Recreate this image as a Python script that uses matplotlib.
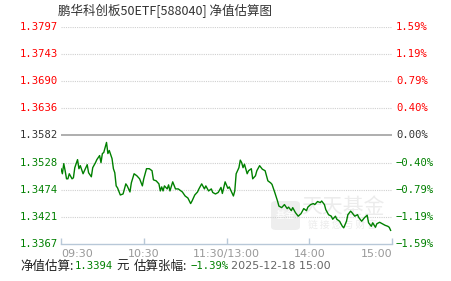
import matplotlib
matplotlib.use("Agg")
import matplotlib.pyplot as plt
from matplotlib.patches import FancyBboxPatch

plt.rcParams['font.family'] = ['Noto Sans CJK SC', 'DejaVu Sans']

###########################################################
### ---------------------- DATA ---------------------------
###########################################################

title = "鹏华科创板50ETF[588040] 净值估算图"
base_nav = 1.3582
nav_levels = [1.3797, 1.3743, 1.3690, 1.3636, 1.3582, 1.3528, 1.3474, 1.3421, 1.3367]
pct_labels = ["1.59%", "1.19%", "0.79%", "0.40%", "0.00%", "-0.40%", "-0.79%", "-1.19%", "-1.59%"]
time_ticks = [0, 60, 120, 180, 240]
time_labels = ["09:30", "10:30", "11:30/13:00", "14:00", "15:00"]

# trading minutes since 09:30 (lunch break removed)
minutes = [0, 1, 2, 3, 4, 5, 6, 8, 9, 10, 12, 13, 14, 16, 17, 19, 20, 22, 23, 25,
           26, 28, 29, 30, 31, 33, 34, 35, 37, 38, 39, 40, 41, 43, 45, 46, 47, 48, 50, 51,
           53, 55, 57, 59, 60, 62, 64, 66, 67, 69, 71, 72, 73, 74, 75, 77, 78, 79, 81, 83,
           85, 88, 90, 92, 94, 95, 97, 99, 100, 102, 104, 105, 107, 109, 110, 112, 114, 116, 117, 119,
           121, 122, 125, 126, 127, 129, 130, 131, 132, 133, 135, 136, 138, 139, 141, 142, 144, 146, 148, 150,
           152, 153, 155, 157, 158, 160, 162, 164, 165, 167, 168, 170, 172, 174, 176, 178, 179, 181, 183, 184,
           186, 188, 189, 191, 192, 194, 196, 197, 199, 200, 202, 204, 205, 207, 208, 210, 211, 213, 215, 216,
           218, 220, 222, 223, 225, 226, 228, 229, 231, 233, 235, 237, 238, 239]
nav = [1.3516, 1.3506, 1.3526, 1.3512, 1.3496, 1.3496, 1.3506, 1.3496, 1.3498, 1.3518,
       1.3534, 1.3516, 1.3522, 1.3506, 1.3512, 1.3524, 1.3508, 1.3500, 1.3518, 1.3528,
       1.3534, 1.3542, 1.3528, 1.3546, 1.3548, 1.3568, 1.3546, 1.3552, 1.3536, 1.3516,
       1.3508, 1.3482, 1.3478, 1.3464, 1.3466, 1.3476, 1.3486, 1.3482, 1.3470, 1.3488,
       1.3506, 1.3502, 1.3496, 1.3482, 1.3496, 1.3516, 1.3516, 1.3512, 1.3494, 1.3492,
       1.3486, 1.3472, 1.3480, 1.3472, 1.3482, 1.3476, 1.3484, 1.3472, 1.3490, 1.3476,
       1.3476, 1.3470, 1.3462, 1.3458, 1.3447, 1.3452, 1.3464, 1.3470, 1.3476, 1.3486,
       1.3476, 1.3482, 1.3472, 1.3476, 1.3469, 1.3466, 1.3469, 1.3479, 1.3467, 1.3490,
       1.3477, 1.3480, 1.3462, 1.3472, 1.3506, 1.3518, 1.3533, 1.3528, 1.3518, 1.3525,
       1.3506, 1.3512, 1.3516, 1.3496, 1.3502, 1.3512, 1.3522, 1.3515, 1.3512, 1.3492,
       1.3488, 1.3485, 1.3469, 1.3452, 1.3442, 1.3439, 1.3445, 1.3437, 1.3440, 1.3433,
       1.3439, 1.3429, 1.3422, 1.3427, 1.3437, 1.3433, 1.3440, 1.3445, 1.3447, 1.3445,
       1.3451, 1.3449, 1.3452, 1.3445, 1.3435, 1.3425, 1.3422, 1.3416, 1.3422, 1.3416,
       1.3412, 1.3402, 1.3399, 1.3412, 1.3425, 1.3432, 1.3429, 1.3422, 1.3425, 1.3419,
       1.3412, 1.3419, 1.3424, 1.3409, 1.3402, 1.3409, 1.3400, 1.3407, 1.3410, 1.3407,
       1.3404, 1.3402, 1.3400, 1.3394]

last_nav = "1.3394"
last_pct = "-1.39%"
stamp = "2025-12-18 15:00"

RED = "#ff0000"
GREEN = "#008000"

###########################################################
### ---------------------- PLOT ---------------------------
###########################################################

W, H = 451, 281
fig = plt.figure(figsize=(W / 100, H / 100), dpi=100)
fig.patch.set_facecolor("white")

def fx(px):
    return px / W

def fy(py):
    return 1 - py / H

ax = fig.add_axes([fx(61), fy(244), fx(392) - fx(61), fy(26.7) - fy(244)])
ax.set_xlim(0, 240)
ax.set_ylim(nav_levels[-1], nav_levels[0])
for s in ["left", "right", "top"]:
    ax.spines[s].set_visible(False)
ax.spines["bottom"].set_color("#b8c8d8")
ax.spines["bottom"].set_linewidth(1)

# grid lines
for lv in nav_levels[:-1]:
    if lv == base_nav:
        ax.axhline(lv, color="#999999", lw=1.1, zorder=1)
    else:
        ax.axhline(lv, color="#d0d0d0", lw=0.8, ls=(0, (1, 1)), zorder=1)

ax.set_yticks([])
ax.set_xticks(time_ticks)
ax.set_xticklabels([])
ax.tick_params(axis="x", direction="in", length=4, color="#b8c8d8", width=1)

# watermark (kept under the line)
wm = FancyBboxPatch((fx(271), fy(230)), fx(29), fy(201) - fy(230), boxstyle="round,pad=0,rounding_size=0.012",
                    transform=fig.transFigure, facecolor="#eeeeee", edgecolor="none", zorder=0.5)
ax.add_patch(wm)
ax.text(fx(285.5), fy(215), "基金", color="white", fontsize=7, ha="center", va="center",
        transform=fig.transFigure, zorder=0.6)
ax.text(fx(343), fy(207), "天天基金", color="#ececec", fontsize=15, ha="center", va="center",
        transform=fig.transFigure, zorder=0.6)
ax.text(fx(343), fy(225), "链 接 您 与 财 富", color="#ececec", fontsize=7, ha="center", va="center",
        transform=fig.transFigure, zorder=0.6)

ax.plot(minutes, nav, color=GREEN, lw=1.0, zorder=3)

# axis labels
mono = "DejaVu Sans Mono"
for lv, pct in zip(nav_levels, pct_labels):
    if lv > base_nav + 1e-9:
        c = RED
    elif abs(lv - base_nav) < 1e-9:
        c = "#333333"
    else:
        c = GREEN
    y = fy(26.7) - (nav_levels[0] - lv) / (nav_levels[0] - nav_levels[-1]) * (fy(26.7) - fy(244))
    fig.text(fx(58), y, "%.4f" % lv, color=c, fontsize=7.6, family=mono, ha="right", va="center")
    fig.text(fx(396), y, pct.replace("-", "\u2212"), color=c, fontsize=7.6, family=mono, ha="left", va="center")

for t, lab in zip(time_ticks, time_labels):
    x = fx(61) + t / 240 * (fx(392) - fx(61))
    ha = "left" if t == 0 else ("right" if t == 240 else "center")
    fig.text(x, fy(254), lab, color="#999999", fontsize=8, family="DejaVu Sans", ha=ha, va="center")

fig.text(fx(58), fy(11), title, color="#333333", fontsize=9, ha="left", va="center")

# footer
fy_f = fy(266)
fig.text(fx(20), fy_f, "净值估算:", color="#222222", fontsize=9, ha="left", va="center")
fig.text(fx(75), fy_f, last_nav, color=GREEN, fontsize=7.6, family=mono, ha="left", va="center")
fig.text(fx(116), fy_f, "元", color="#222222", fontsize=9, ha="left", va="center")
fig.text(fx(134), fy_f, "估算张幅:", color="#222222", fontsize=9, ha="left", va="center")
fig.text(fx(191), fy_f, last_pct.replace("-", "\u2212"), color=GREEN, fontsize=7.6, family=mono, ha="left", va="center")
fig.text(fx(231), fy_f, stamp, color="#666666", fontsize=8, family="DejaVu Sans", ha="left", va="center")

fig.savefig("out.png", dpi=100)
